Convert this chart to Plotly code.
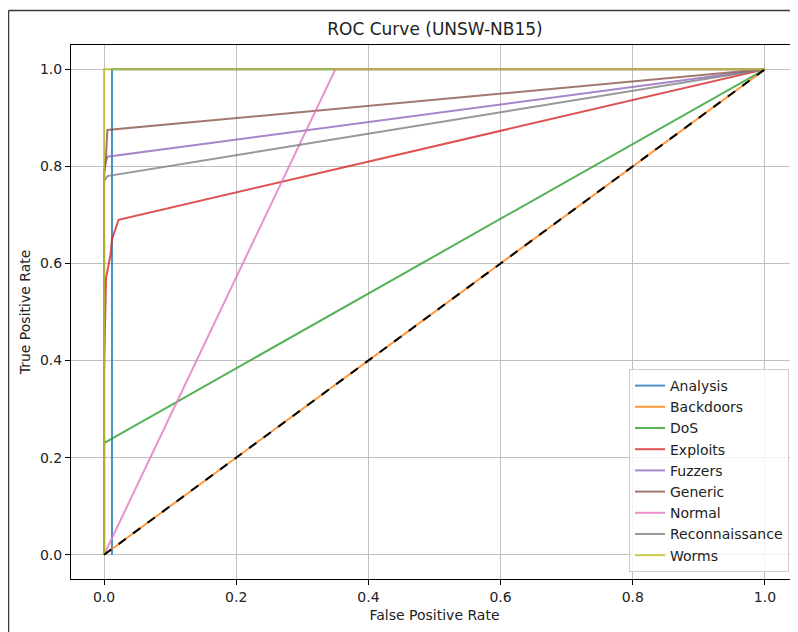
import plotly.graph_objects as go

# ---- data ----
analysis_fpr = [0.012, 0.012, 1.0]
analysis_tpr = [0.0, 1.0, 1.0]

backdoors_fpr = [0.0, 1.0]
backdoors_tpr = [0.0, 1.0]

dos_fpr = [0.0, 0.0, 1.0]
dos_tpr = [0.0, 0.23, 1.0]

exploits_fpr = [0.0, 0.0, 0.003, 0.006, 0.010, 0.012, 0.017, 0.022, 1.0]
exploits_tpr = [0.0, 0.38, 0.57, 0.59, 0.62, 0.65, 0.67, 0.69, 1.0]

fuzzers_fpr = [0.0, 0.0, 0.003, 0.005, 1.0]
fuzzers_tpr = [0.0, 0.79, 0.81, 0.82, 1.0]

generic_fpr = [0.0, 0.0, 0.003, 0.005, 1.0]
generic_tpr = [0.0, 0.78, 0.82, 0.875, 1.0]

normal_fpr = [0.0, 0.35, 1.0]
normal_tpr = [0.0, 1.0, 1.0]

recon_fpr = [0.0, 0.0, 0.005, 1.0]
recon_tpr = [0.0, 0.77, 0.78, 1.0]

worms_fpr = [0.0, 0.0, 1.0]
worms_tpr = [0.0, 1.0, 1.0]

chance_x = [0.0, 1.0]
chance_y = [0.0, 1.0]

class_names = ["Analysis", "Backdoors", "DoS", "Exploits", "Fuzzers",
               "Generic", "Normal", "Reconnaissance", "Worms"]
tick_vals = [0.0, 0.2, 0.4, 0.6, 0.8, 1.0]
tick_text = ["0.0", "0.2", "0.4", "0.6", "0.8", "1.0"]

colors = ["#1f77b4", "#ff7f0e", "#2ca02c", "#d62728", "#9467bd",
          "#8c564b", "#e377c2", "#7f7f7f", "#bcbd22"]

curves = [
    (analysis_fpr, analysis_tpr),
    (backdoors_fpr, backdoors_tpr),
    (dos_fpr, dos_tpr),
    (exploits_fpr, exploits_tpr),
    (fuzzers_fpr, fuzzers_tpr),
    (generic_fpr, generic_tpr),
    (normal_fpr, normal_tpr),
    (recon_fpr, recon_tpr),
    (worms_fpr, worms_tpr),
]

FONT = "DejaVu Sans"
OFF = 8  # default page body margin

fig = go.Figure()
for name, col, (xs, ys) in zip(class_names, colors, curves):
    fig.add_trace(go.Scatter(x=xs, y=ys, mode="lines", name=name,
                             opacity=0.8, line=dict(color=col, width=2)))
fig.add_trace(go.Scatter(x=chance_x, y=chance_y, mode="lines", showlegend=False,
                         line=dict(color="black", width=2, dash="dash")))

W, H = 798 - OFF, 632 - OFF
L = 71 - OFF
T = 45 - OFF
R = 0
B = H - (579 - OFF)
pw, ph = W - L - R, H - T - B


def px_to_paper_x(p):
    return (p - OFF - L) / pw


def px_to_paper_y(p):
    return (H - B - (p - OFF)) / ph


# outer frame (top and left edges visible)
fig.add_shape(type="line", xref="paper", yref="paper",
              x0=px_to_paper_x(8.5), y0=px_to_paper_y(10.5),
              x1=px_to_paper_x(820), y1=px_to_paper_y(10.5),
              line=dict(color="#3a3a3a", width=1.5))
fig.add_shape(type="line", xref="paper", yref="paper",
              x0=px_to_paper_x(8.5), y0=px_to_paper_y(10.5),
              x1=px_to_paper_x(8.5), y1=px_to_paper_y(660),
              line=dict(color="#3a3a3a", width=1.5))

axis_common = dict(
    showline=True, linecolor="black", linewidth=1, mirror=True,
    ticks="outside", ticklen=5, tickcolor="black", tickwidth=1,
    showgrid=True, gridcolor="#c0c0c0", gridwidth=1,
    zeroline=False, tickvals=tick_vals, ticktext=tick_text,
    tickfont=dict(family=FONT, size=14, color="#222222"),
)

fig.update_layout(
    width=W, height=H,
    margin=dict(l=L, r=R, t=T, b=B),
    paper_bgcolor="white", plot_bgcolor="white",
    font=dict(family=FONT, size=14, color="#222222"),
    title=dict(text="ROC Curve (UNSW-NB15)", x=(435 - OFF) / W,
               xanchor="center", y=1 - (29 - OFF) / H, yanchor="middle",
               font=dict(family=FONT, size=17, color="#222222")),
    xaxis=dict(range=[-0.05, 1.05],
               title=dict(text="False Positive Rate", standoff=6,
                          font=dict(family=FONT, size=14)),
               **axis_common),
    yaxis=dict(range=[-0.05, 1.05],
               title=dict(text="True Positive Rate", standoff=6,
                          font=dict(family=FONT, size=14)),
               **axis_common),
    legend=dict(x=px_to_paper_x(629), y=px_to_paper_y(572),
                xanchor="left", yanchor="bottom",
                bgcolor="rgba(255,255,255,0.8)", bordercolor="#cccccc",
                borderwidth=1, font=dict(family=FONT, size=14, color="#222222"),
                tracegroupgap=0),
)

fig.write_html("out.html")
